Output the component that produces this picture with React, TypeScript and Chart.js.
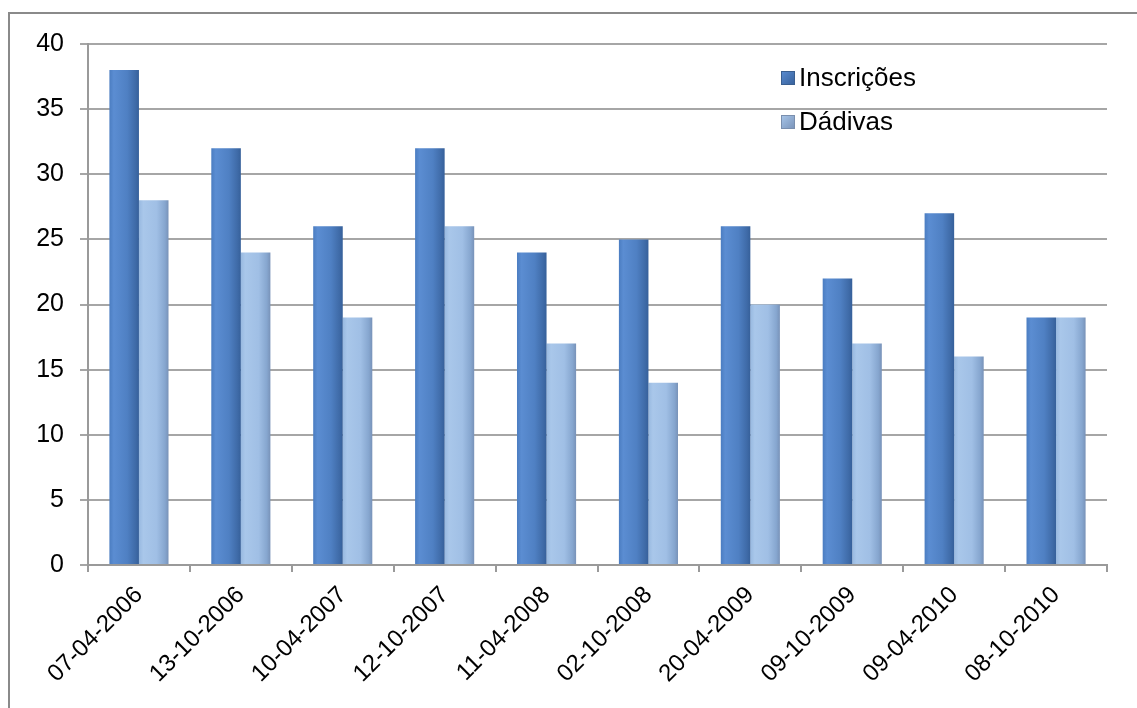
import React, { useEffect, useRef } from "react";
import { Chart, registerables } from "chart.js";

Chart.register(...registerables);

const LABELS = [
  "07-04-2006", "13-10-2006", "10-04-2007", "12-10-2007", "11-04-2008",
  "02-10-2008", "20-04-2009", "09-10-2009", "09-04-2010", "08-10-2010",
];
const INSCRICOES = [38, 32, 26, 32, 24, 25, 26, 22, 27, 19];
const DADIVAS = [28, 24, 19, 26, 17, 14, 20, 17, 16, 19];
const SERIES_NAMES = ["Inscrições", "Dádivas"];
const Y_MIN = 0;
const Y_MAX = 40;
const Y_STEP = 5;

const FONT = "'Liberation Sans', Arial, sans-serif";
const CAT_PCT = 0.58;

const STOPS = [
  [[0, "#4b7dc1"], [0.15, "#5b8dd2"], [0.6, "#4f80c3"], [0.88, "#3f6ba8"], [1, "#36609a"]],
  [[0, "#98b9e0"], [0.15, "#a9c7ea"], [0.6, "#a0bfe5"], [0.88, "#86a6cf"], [1, "#7892b8"]],
];

function barFill(ctx: any, d: number) {
  const chart = ctx.chart;
  const xs = chart.scales && chart.scales.x;
  if (!xs || ctx.type !== "data" || !isFinite(xs.left)) return STOPS[d][2][1];
  const cx = xs.getPixelForValue(ctx.dataIndex);
  const w = (xs.right - xs.left) / LABELS.length;
  const bw = (w * CAT_PCT) / 2;
  const left = cx - (w * CAT_PCT) / 2 + d * bw;
  const g = chart.ctx.createLinearGradient(left, 0, left + bw, 0);
  for (const [o, c] of STOPS[d] as any) g.addColorStop(o, c);
  return g;
}

const framePlugin = {
  id: "frame",
  beforeDraw(chart: any) {
    const c = chart.ctx;
    c.save();
    c.fillStyle = "#ffffff";
    c.fillRect(0, 0, chart.width, chart.height);
    c.strokeStyle = "#8a8a8a";
    c.lineWidth = 2;
    c.strokeRect(9, 13, chart.width + 20, chart.height + 20);
    c.restore();
  },
};

const legendPlugin = {
  id: "customLegend",
  afterDraw(chart: any) {
    const c = chart.ctx;
    c.save();
    const x0 = 781;
    const ys = [78, 122];
    c.font = `26px ${FONT}`;
    c.textBaseline = "middle";
    c.textAlign = "left";
    SERIES_NAMES.forEach((name, i) => {
      const y = ys[i];
      const g = c.createLinearGradient(x0, y - 7, x0 + 14, y + 7);
      const st = STOPS[i] as any;
      g.addColorStop(0, st[1][1]);
      g.addColorStop(1, st[4][1]);
      c.fillStyle = g;
      c.fillRect(x0, y - 7, 14, 14);
      c.strokeStyle = i === 0 ? "#3a5f90" : "#7a8fae";
      c.lineWidth = 1;
      c.strokeRect(x0 + 0.5, y - 6.5, 13, 13);
      c.fillStyle = "#000000";
      c.fillText(name, x0 + 18, y + 1);
    });
    c.restore();
  },
};

export default function App() {
  const ref = useRef<HTMLCanvasElement | null>(null);
  useEffect(() => {
    document.body.style.margin = "0";
    if (!ref.current) return;
    const chart = new Chart(ref.current, {
      type: "bar",
      data: {
        labels: LABELS,
        datasets: [
          {
            label: SERIES_NAMES[0],
            data: INSCRICOES,
            backgroundColor: (ctx: any) => barFill(ctx, 0),
            borderWidth: 0,
            categoryPercentage: CAT_PCT,
            barPercentage: 1,
          },
          {
            label: SERIES_NAMES[1],
            data: DADIVAS,
            backgroundColor: (ctx: any) => barFill(ctx, 1),
            borderWidth: 0,
            categoryPercentage: CAT_PCT,
            barPercentage: 1,
          },
        ],
      },
      options: {
        animation: false,
        responsive: false,
        maintainAspectRatio: false,
        layout: { padding: { left: 0, top: 44, right: 30, bottom: 0 } },
        plugins: {
          legend: { display: false },
          tooltip: { enabled: false },
        },
        scales: {
          x: {
            grid: {
              offset: true,
              drawOnChartArea: false,
              drawTicks: true,
              tickLength: 7,
              color: "#9a9a9a",
              lineWidth: 2,
            },
            border: { color: "#9a9a9a", width: 2 },
            ticks: {
              color: "#000000",
              font: { family: FONT, size: 24 },
              maxRotation: 45,
              minRotation: 45,
              padding: 9,
              autoSkip: false,
            },
            afterFit: (s: any) => {
              s.height = 708 - 565;
            },
          },
          y: {
            min: Y_MIN,
            max: Y_MAX,
            ticks: {
              stepSize: Y_STEP,
              color: "#000000",
              font: { family: FONT, size: 25 },
              padding: 16,
            },
            grid: {
              color: "#a6a6a6",
              lineWidth: 2,
              tickLength: 8,
            },
            border: { color: "#9a9a9a", width: 2 },
            afterFit: (s: any) => {
              s.width = 88;
            },
          },
        },
      },
      plugins: [framePlugin, legendPlugin],
    });
    return () => chart.destroy();
  }, []);
  return (
    <div style={{ position: "absolute", left: 0, top: 0, width: 1137, height: 708 }}>
      <canvas ref={ref} width={1137} height={708} style={{ width: 1137, height: 708 }} />
    </div>
  );
}
